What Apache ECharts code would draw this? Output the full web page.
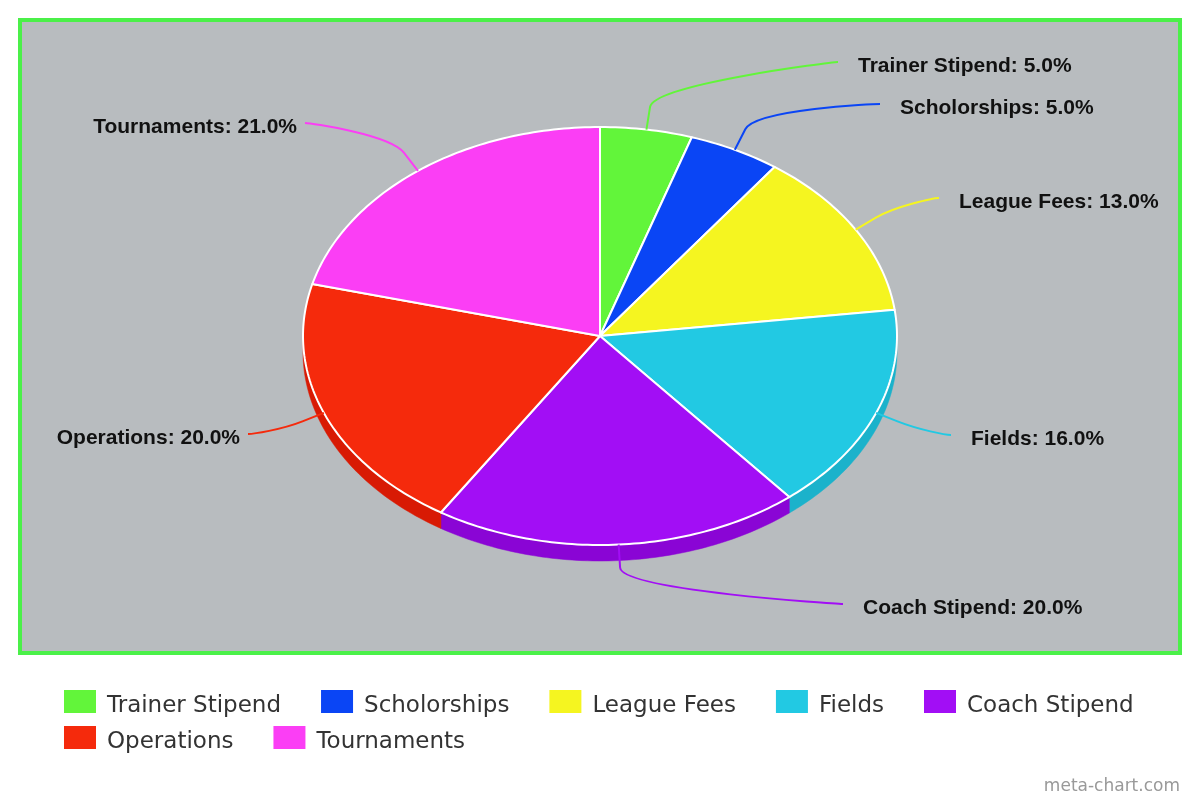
<!DOCTYPE html>
<html>
<head>
<meta charset="utf-8">
<script src="https://cdn.jsdelivr.net/npm/echarts@6/dist/echarts.min.js"></script>
<style>
html,body{margin:0;padding:0;background:#fff;}
#chart{width:1200px;height:800px;}
</style>
</head>
<body>
<div id="chart"></div>
<script>
// ---- data ----
const categories = ['Trainer Stipend', 'Scholorships', 'League Fees', 'Fields', 'Coach Stipend', 'Operations', 'Tournaments'];
const values = [5, 5, 13, 16, 20, 20, 21];
const legendRow1 = ['Trainer Stipend', 'Scholorships', 'League Fees', 'Fields', 'Coach Stipend'];
const legendRow2 = ['Operations', 'Tournaments'];

// ---- style / layout ----
const colors = ['#62f53a', '#0a45f5', '#f5f520', '#22c9e3', '#a20ef5', '#f52a0c', '#fb3ef5'];
const sideColors = ['#4fd62c', '#0636cf', '#d4d416', '#1bb2cb', '#8a05d5', '#d81a04', '#d62fd0'];
const labelEnds = [[838, 62], [880, 104], [939, 198], [951, 435], [843, 604], [248, 434], [305, 123]];
const PIE = { cx: 600, cy: 336, rx: 297, ry: 209, depth: 16 };

const total = values.reduce((a, b) => a + b, 0);
const cum = [];
values.reduce((acc, v, i) => { cum[i] = acc; return acc + v; }, 0);

function pt(theta, dy) {
  return [PIE.cx + PIE.rx * Math.sin(theta), PIE.cy - PIE.ry * Math.cos(theta) + (dy || 0)];
}
function arcPts(a, b, dy) {
  const pts = [];
  const n = Math.max(2, Math.ceil(Math.abs(b - a) / (Math.PI / 180)));
  for (let k = 0; k <= n; k++) pts.push(pt(a + (b - a) * k / n, dy));
  return pts;
}

function renderItem(params, api) {
  const i = params.dataIndex;
  const a = cum[i] / total * 2 * Math.PI;
  const b = (cum[i] + values[i]) / total * 2 * Math.PI;
  const children = [];
  // side wall (visible between 90° and 270°)
  const sa = Math.max(a, Math.PI / 2), sb = Math.min(b, 3 * Math.PI / 2);
  if (sb > sa) {
    const top = arcPts(sa, sb, 0);
    const bot = arcPts(sb, sa, PIE.depth);
    children.push({
      type: 'polygon', z2: 1,
      shape: { points: top.concat(bot) },
      style: { fill: sideColors[i], stroke: sideColors[i], lineWidth: 0.5 }
    });
  }
  // top face
  const face = [[PIE.cx, PIE.cy]].concat(arcPts(a, b, 0));
  children.push({
    type: 'polygon', z2: 10,
    shape: { points: face },
    style: { fill: colors[i], stroke: '#ffffff', lineWidth: 2, lineJoin: 'round' }
  });
  // leader line
  const m = (a + b) / 2;
  const touch = pt(m, 0);
  const dir = [Math.sin(m), -Math.cos(m)];
  const brk = [touch[0] + dir[0] * 23, touch[1] + dir[1] * 23];
  const end = labelEnds[i];
  const right = end[0] > PIE.cx;
  const c1 = [2 * brk[0] - touch[0], 2 * brk[1] - touch[1]];
  const c2 = [end[0] + (right ? -5 : 5), end[1]];
  children.push({
    type: 'path', z2: 20,
    shape: { pathData: `M${touch[0]},${touch[1]} L${brk[0]},${brk[1]} C${c1[0]},${c1[1]} ${c2[0]},${c2[1]} ${end[0]},${end[1]}` },
    style: { fill: 'none', stroke: colors[i], lineWidth: 2 }
  });
  // label
  const pct = (values[i] / total * 100).toFixed(1);
  children.push({
    type: 'text', z2: 30,
    style: {
      text: categories[i] + ': ' + pct + '%',
      x: right ? end[0] + 20 : end[0] - 8,
      y: end[1] + 4,
      align: right ? 'left' : 'right',
      verticalAlign: 'middle',
      font: 'bold 21px "Liberation Sans", Arial, sans-serif',
      fill: '#111111'
    }
  });
  return { type: 'group', children: children };
}

const chart = echarts.init(document.getElementById('chart'), null, { renderer: 'canvas' });
const legendBase = {
  orient: 'horizontal', left: 64, padding: 0,
  itemWidth: 32, itemHeight: 23, itemGap: 40,
  icon: 'rect', selectedMode: false,
  formatter: function (name) { return '{s| }{a|' + name + '}'; },
  textStyle: {
    fontFamily: 'DejaVu Sans', fontSize: 23, color: '#333333', padding: [0, 0, 0, 6],
    rich: {
      s: { fontSize: 1, width: 0, lineHeight: 32 },
      a: { fontFamily: 'DejaVu Sans', fontSize: 23, color: '#333333', lineHeight: 27, verticalAlign: 'bottom' }
    }
  }
};
chart.setOption({
  animation: false,
  color: colors,
  title: {
    text: 'meta-chart.com', right: 20, top: 778, padding: 0,
    textStyle: { fontFamily: 'DejaVu Sans', fontSize: 17, fontWeight: 'normal', color: '#999999' }
  },
  graphic: [{
    type: 'rect', z: -10, silent: true,
    shape: { x: 20, y: 20, width: 1160, height: 633 },
    style: { fill: '#b8bcbf', stroke: '#4bf049', lineWidth: 4 }
  }],
  legend: [
    Object.assign({}, legendBase, { top: 690, data: legendRow1 }),
    Object.assign({}, legendBase, { top: 726, data: legendRow2 })
  ],
  series: [
    {
      type: 'pie', name: 'legend', radius: [0, 0], center: [-50, -50], silent: true,
      label: { show: false }, labelLine: { show: false },
      data: categories.map((c, i) => ({ name: c, value: values[i] }))
    },
    {
      type: 'custom', name: 'Budget', coordinateSystem: 'none', silent: true,
      renderItem: renderItem,
      data: categories.map((c, i) => ({ name: c, value: values[i] }))
    }
  ]
});
</script>
</body>
</html>
